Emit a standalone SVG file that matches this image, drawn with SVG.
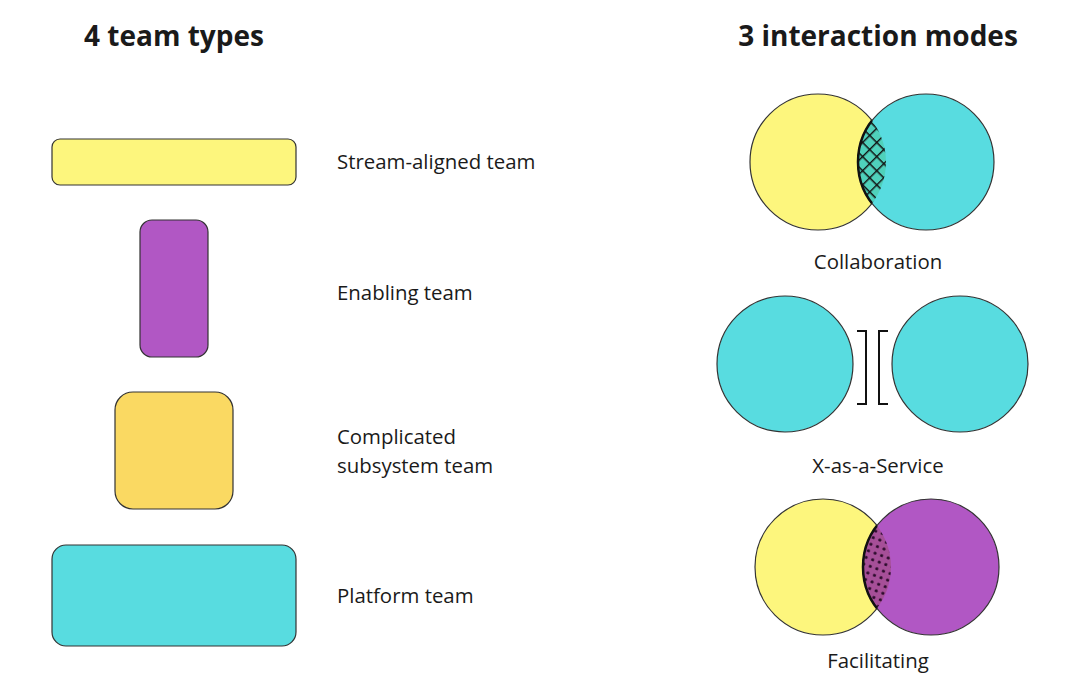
<svg xmlns="http://www.w3.org/2000/svg" width="1080" height="697" viewBox="0 0 1080 697">
<style>
text{font-family:"Open Sans","Noto Sans",sans-serif;fill:#1a1a1a}
.t{font-size:28px;font-weight:bold;text-anchor:middle}
.l{font-size:20.4px}
.c{font-size:20.4px;text-anchor:middle}
.s{stroke:#333;stroke-width:1.2}
</style>
<defs>
<pattern id="hatch" width="10" height="10" patternUnits="userSpaceOnUse" patternTransform="rotate(45)">
<rect width="10" height="10" fill="#4fd1bb"/>
<path d="M0 0H10M0 0V10" stroke="#111" stroke-width="2.8"/>
</pattern>
<pattern id="dots" width="7" height="7" patternUnits="userSpaceOnUse" patternTransform="rotate(20)">
<rect width="7" height="7" fill="#a64f98"/>
<circle cx="3.5" cy="3.5" r="1.6" fill="#2a0a2a"/>
</pattern>
<clipPath id="cy1"><circle cx="818" cy="162" r="68"/></clipPath>
<clipPath id="cy2"><circle cx="823" cy="567" r="68"/></clipPath>
</defs>
<text class="t" x="174" y="46">4 team types</text>
<text class="t" x="878" y="46">3 interaction modes</text>
<g id="stream"><rect class="s" x="52" y="139" width="244" height="46" rx="8" fill="#fdf67d"/><text class="l" x="337" y="169">Stream-aligned team</text></g>
<g id="enabling"><rect class="s" x="140" y="220" width="68" height="137" rx="12" fill="#b157c4"/><text class="l" x="337" y="300">Enabling team</text></g>
<g id="complicated"><rect class="s" x="115" y="392" width="118" height="117" rx="18" fill="#fad962"/><text class="l" x="337" y="444">Complicated</text><text class="l" x="337" y="473">subsystem team</text></g>
<g id="platform"><rect class="s" x="52" y="545" width="244" height="101" rx="14" fill="#58dce0"/><text class="l" x="337" y="603">Platform team</text></g>
<g id="collaboration">
<circle class="s" cx="818" cy="162" r="68" fill="#fdf67d"/>
<circle class="s" cx="926" cy="162" r="68" fill="#58dce0"/>
<circle cx="926" cy="162" r="68" fill="url(#hatch)" clip-path="url(#cy1)" stroke="#111" stroke-width="2.5"/>
<text class="c" x="878" y="269">Collaboration</text>
</g>
<g id="xaas">
<circle class="s" cx="785" cy="364" r="68" fill="#58dce0"/>
<circle class="s" cx="960" cy="364" r="68" fill="#58dce0"/>
<text class="c" x="878" y="473">X-as-a-Service</text>
</g>
<g id="facilitating">
<circle class="s" cx="823" cy="567" r="68" fill="#fdf67d"/>
<circle class="s" cx="931" cy="567" r="68" fill="#b157c4"/>
<circle cx="931" cy="567" r="68" fill="url(#dots)" clip-path="url(#cy2)" stroke="#111" stroke-width="2.5"/>
<text class="c" x="878" y="668">Facilitating</text>
</g>
<g id="connectors" fill="none" stroke="#111" stroke-width="2">
<path d="M857 331H866V404H857"/>
<path d="M888 331H879V404H888"/>
</g>
</svg>
